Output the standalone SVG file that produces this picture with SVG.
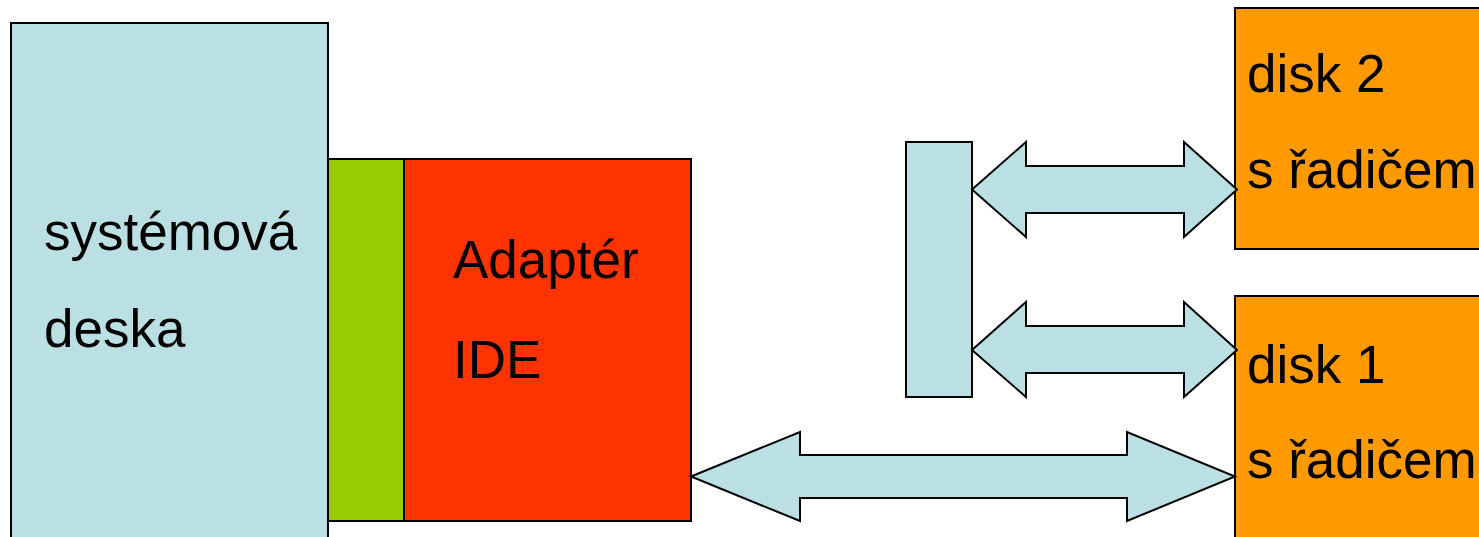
<svg xmlns="http://www.w3.org/2000/svg" width="1479" height="537" viewBox="0 0 1479 537">
<style>
.box{stroke:#000;stroke-width:2}
.blue{fill:#BBE0E3}
.green{fill:#99CC00}
.red{fill:#FF3300}
.orange{fill:#FF9900}
.arrow{fill:#BBE0E3;stroke:#000;stroke-width:2;stroke-linejoin:miter}
text{font-family:"Liberation Sans",Arial,sans-serif;font-size:53px;fill:#000}
</style>
<rect width="1479" height="537" fill="#fff"/>
<g id="systemova-deska">
<rect class="box blue" x="11" y="23" width="317" height="530"/>
<text x="44" y="250">systémová</text>
<text x="44" y="347">deska</text>
</g>
<g id="slot">
<rect class="box green" x="328" y="159" width="76" height="362"/>
</g>
<g id="adapter-ide">
<rect class="box red" x="404" y="159" width="287" height="362"/>
<text x="453" y="278">Adaptér</text>
<text x="453" y="378">IDE</text>
</g>
<g id="bus-bar">
<rect class="box blue" x="906" y="142" width="66" height="255"/>
</g>
<g id="disk2">
<rect class="box orange" x="1235" y="8" width="260" height="241"/>
<text x="1247" y="92">disk 2</text>
<text x="1247" y="188">s řadičem</text>
</g>
<g id="disk1">
<rect class="box orange" x="1235" y="296" width="260" height="260"/>
<text x="1247" y="383">disk 1</text>
<text x="1247" y="478">s řadičem</text>
</g>
<g id="connectors">
<polygon class="arrow" points="691,476.5 800,432 800,455 1127,455 1127,432 1235,476.5 1127,521 1127,498 800,498 800,521"/>
<polygon class="arrow" points="972,189.5 1026,142 1026,166 1184,166 1184,142 1237,189.5 1184,237 1184,213 1026,213 1026,237"/>
<polygon class="arrow" points="972,350 1026,302 1026,326 1184,326 1184,302 1237,350 1184,397 1184,373 1026,373 1026,397"/>
</g>
</svg>
